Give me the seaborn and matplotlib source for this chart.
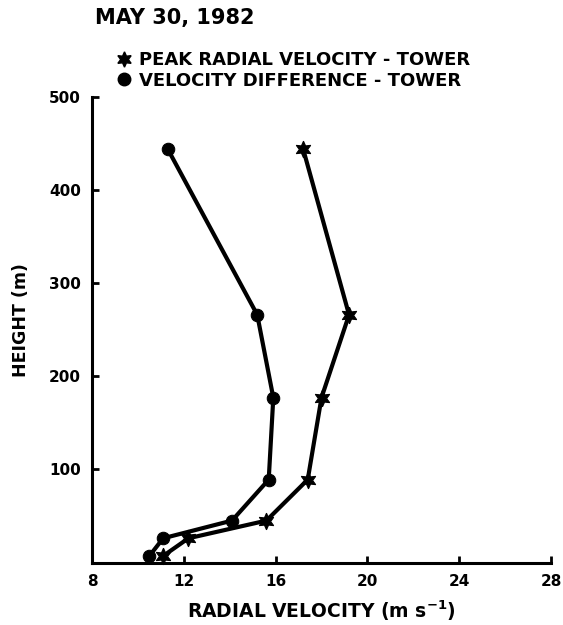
import matplotlib
matplotlib.use("Agg")
import matplotlib.pyplot as plt
import seaborn as sns
import pandas as pd
from matplotlib.lines import Line2D

# Data
heights = [7, 26, 45, 89, 177, 266, 444]
peak_radial_velocity = [11.1, 12.2, 15.6, 17.4, 18.0, 19.2, 17.2]
velocity_difference = [10.5, 11.1, 14.1, 15.7, 15.9, 15.2, 11.3]
x_ticks = [8, 12, 16, 20, 24, 28]
y_ticks = [100, 200, 300, 400, 500]
title = "MAY 30, 1982"
series_names = ["PEAK RADIAL VELOCITY - TOWER", "VELOCITY DIFFERENCE - TOWER"]

sns.set_style("ticks")
plt.rcParams['font.family'] = ['DejaVu Sans']
plt.rcParams['font.weight'] = 'bold'
plt.rcParams['text.color'] = 'black'
plt.rcParams['axes.labelcolor'] = 'black'
plt.rcParams['xtick.color'] = 'black'
plt.rcParams['ytick.color'] = 'black'

df = pd.DataFrame({
    "height": heights * 2,
    "velocity": peak_radial_velocity + velocity_difference,
    "series": [series_names[0]] * len(heights) + [series_names[1]] * len(heights),
})

fig = plt.figure(figsize=(5.63, 6.25), dpi=100)
ax = fig.add_axes([0.1634, 0.1, 0.8153, 0.745])

star = (6, 1, 0)
for name, mk, ms in [(series_names[0], star, 12), (series_names[1], "o", 9)]:
    sub = df[df["series"] == name]
    sns.lineplot(data=sub, x="velocity", y="height", sort=False, estimator=None,
                 color="black", linewidth=3.0, marker=mk, markersize=ms,
                 markeredgecolor="black", markerfacecolor="black", ax=ax,
                 clip_on=False, legend=False)

ax.set_xlim(8, 28)
ax.set_ylim(0, 500)
ax.set_xticks(x_ticks)
ax.set_yticks(y_ticks)
ax.set_xticklabels([str(t) for t in x_ticks], fontsize=11, fontweight="bold")
ax.set_yticklabels([str(t) for t in y_ticks], fontsize=11, fontweight="bold")
ax.tick_params(direction="in", length=5, width=2, pad=8, colors="black")
sns.despine(ax=ax)
for s in ["left", "bottom"]:
    ax.spines[s].set_linewidth(2.2)
    ax.spines[s].set_color("black")

ax.set_xlabel("RADIAL VELOCITY (m s$^{\\mathbf{-1}}$)", fontsize=13.5, fontweight="bold", labelpad=7)
ax.set_ylabel("HEIGHT (m)", fontsize=12.5, fontweight="bold")
ax.yaxis.set_label_coords(-0.135, 0.52)

fig.text(95 / 563, 1 - 18 / 625, title, fontsize=15, fontweight="bold", va="center", ha="left")

handles = [
    Line2D([], [], linestyle="none", marker=star, markersize=11, color="black"),
    Line2D([], [], linestyle="none", marker="o", markersize=9, color="black"),
]
leg = fig.legend(handles, series_names, loc="upper left",
                 bbox_to_anchor=(116 / 563, 1 - 51 / 625), frameon=False,
                 prop={"size": 13, "weight": "bold"}, handletextpad=0.35,
                 labelspacing=0.15, handlelength=0.9, borderaxespad=0, borderpad=0)

fig.savefig("out.png", dpi=100)
